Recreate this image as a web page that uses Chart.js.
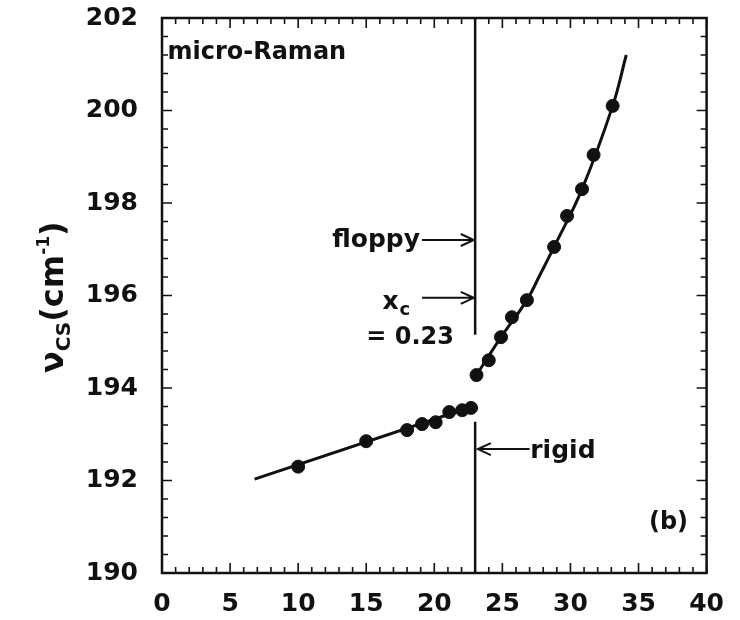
<!DOCTYPE html>
<html>
<head>
<meta charset="utf-8">
<script src="https://cdn.jsdelivr.net/npm/chart.js@4.4.0/dist/chart.umd.min.js"></script>
<style>
  html, body { margin: 0; padding: 0; background: #fff; }
  #wrap { width: 740px; height: 620px; }
</style>
</head>
<body>
<div id="wrap"><canvas id="ramanChart" width="740" height="620"></canvas></div>
<script>
// measured CS mode frequency vs. composition (x in %)
const lowX  = [10, 15, 18, 19.1, 20.1, 21.1, 22.05, 22.7];
const lowY  = [192.3, 192.85, 193.09, 193.22, 193.26, 193.48, 193.52, 193.57];
const highX = [23.1, 24, 24.9, 25.7, 26.8, 28.8, 29.75, 30.85, 31.7, 33.1];
const highY = [194.28, 194.6, 195.1, 195.53, 195.9, 197.05, 197.72, 198.3, 199.04, 200.1];

// guide-to-the-eye curves through each branch
const fitLowX  = [6.8, 22.8];
const fitLowY  = [192.03, 193.6];
const fitHighX = [23.1, 24.9, 26.8, 27.8, 28.8, 30.85, 33.1, 34.1];
const fitHighY = [194.28, 195.1, 195.9, 196.47, 197.05, 198.3, 200.1, 201.2];

// rigidity threshold x_c = 0.23
const xc = 23;
const xTicks = [0, 5, 10, 15, 20, 25, 30, 35, 40];
const yTicks = [190, 192, 194, 196, 198, 200, 202];

const FONT = '"DejaVu Sans", sans-serif';
const INK = '#111';

const pts = (xs, ys) => xs.map((x, i) => ({ x: x, y: ys[i] }));

// frame, inward ticks on all sides, axis title and annotations
const decorations = {
  id: 'decorations',
  afterDraw(chart) {
    const ctx = chart.ctx;
    const xs = chart.scales.x, ys = chart.scales.y;
    const a = chart.chartArea;
    ctx.save();
    ctx.strokeStyle = INK;
    ctx.fillStyle = INK;

    // minor / major ticks
    ctx.lineWidth = 1.6;
    for (let v = xs.min; v <= xs.max; v += 1) {
      const px = xs.getPixelForValue(v);
      const len = v % 5 === 0 ? 10 : 6;
      ctx.beginPath();
      ctx.moveTo(px, a.bottom); ctx.lineTo(px, a.bottom - len);
      ctx.moveTo(px, a.top); ctx.lineTo(px, a.top + len);
      ctx.stroke();
    }
    for (let k = 0; k <= 30; k++) {
      const v = ys.min + k * 0.4;
      const py = ys.getPixelForValue(v);
      const len = k % 5 === 0 ? 10 : 6;
      ctx.beginPath();
      ctx.moveTo(a.left, py); ctx.lineTo(a.left + len, py);
      ctx.moveTo(a.right, py); ctx.lineTo(a.right - len, py);
      ctx.stroke();
    }

    // frame
    ctx.lineWidth = 2.5;
    ctx.strokeRect(a.left, a.top, a.right - a.left, a.bottom - a.top);

    // arrows
    const arrow = (x0, x1, y) => {
      const p0 = xs.getPixelForValue(x0), p1 = xs.getPixelForValue(x1);
      const py = ys.getPixelForValue(y);
      const dir = p1 > p0 ? 1 : -1;
      ctx.lineWidth = 2;
      ctx.beginPath();
      ctx.moveTo(p0, py); ctx.lineTo(p1, py);
      ctx.moveTo(p1 - dir * 13, py - 6); ctx.lineTo(p1, py); ctx.lineTo(p1 - dir * 13, py + 6);
      ctx.stroke();
    };
    arrow(19.1, 22.9, 197.2);
    arrow(19.1, 22.9, 195.95);
    arrow(27.0, 23.2, 192.68);

    const text = (s, x, y, size, align) => {
      ctx.font = 'bold ' + size + 'px ' + FONT;
      ctx.textAlign = align;
      ctx.textBaseline = 'middle';
      ctx.fillText(s, xs.getPixelForValue(x), ys.getPixelForValue(y));
    };
    text('micro-Raman', 0.4, 201.25, 24, 'left');
    text('floppy', 18.95, 197.2, 25, 'right');
    text('= 0.23', 15.0, 195.08, 24, 'left');
    text('rigid', 27.05, 192.62, 25, 'left');
    text('(b)', 37.2, 191.08, 24, 'center');

    // x_c
    const xcx = xs.getPixelForValue(16.2), xcy = ys.getPixelForValue(195.7);
    ctx.textAlign = 'left';
    ctx.textBaseline = 'alphabetic';
    ctx.font = 'bold 25px ' + FONT;
    ctx.fillText('x', xcx, xcy);
    ctx.font = 'bold 18px ' + FONT;
    ctx.fillText('c', xcx + 17, xcy + 6);

    // y axis title: ν_CS (cm^-1)
    ctx.translate(63, 373);
    ctx.rotate(-Math.PI / 2);
    let cx = 0;
    const part = (s, size, dy) => {
      ctx.font = 'bold ' + size + 'px ' + FONT;
      ctx.fillText(s, cx, dy);
      cx += ctx.measureText(s).width;
    };
    part('ν', 32, 0);
    part('CS', 20, 7);
    part('(cm', 32, 0);
    part('-1', 17, -14);
    part(')', 32, 0);
    ctx.restore();
  }
};

const lineStyle = {
  showLine: true,
  borderColor: INK,
  borderWidth: 3,
  pointRadius: 0,
  pointHoverRadius: 0
};

new Chart(document.getElementById('ramanChart'), {
  type: 'scatter',
  data: {
    datasets: [
      {
        label: 'floppy',
        data: pts(lowX, lowY),
        backgroundColor: INK,
        borderColor: INK,
        pointRadius: 6.5
      },
      {
        label: 'rigid',
        data: pts(highX, highY),
        backgroundColor: INK,
        borderColor: INK,
        pointRadius: 6.5
      },
      Object.assign({ label: 'fit low', data: pts(fitLowX, fitLowY) }, lineStyle),
      Object.assign({ label: 'fit high', data: pts(fitHighX, fitHighY), tension: 0.4 }, lineStyle),
      Object.assign({ label: 'xc upper', data: pts([xc, xc], [202, 195.15]) }, lineStyle, { borderWidth: 2.5 }),
      Object.assign({ label: 'xc lower', data: pts([xc, xc], [193.27, 190]) }, lineStyle, { borderWidth: 2.5 })
    ]
  },
  options: {
    responsive: false,
    animation: false,
    layout: { padding: { top: 0, right: 32, left: 0, bottom: 0 } },
    plugins: {
      legend: { display: false },
      tooltip: { enabled: false }
    },
    scales: {
      x: {
        type: 'linear',
        min: 0,
        max: 40,
        afterBuildTicks: (s) => { s.ticks = xTicks.map(v => ({ value: v })); },
        afterFit: (s) => { s.height = 47; },
        grid: { display: false, drawTicks: false },
        border: { display: false },
        ticks: { color: INK, padding: 16, font: { family: FONT, size: 25, weight: 'bold' } }
      },
      y: {
        type: 'linear',
        min: 190,
        max: 202,
        afterBuildTicks: (s) => { s.ticks = yTicks.map(v => ({ value: v })); },
        afterFit: (s) => { s.width = 162; s.paddingTop = 18; s.paddingBottom = 0; },
        grid: { display: false, drawTicks: false },
        border: { display: false },
        ticks: { color: INK, padding: 24, font: { family: FONT, size: 25, weight: 'bold' } }
      }
    }
  },
  plugins: [decorations]
});
</script>
</body>
</html>
